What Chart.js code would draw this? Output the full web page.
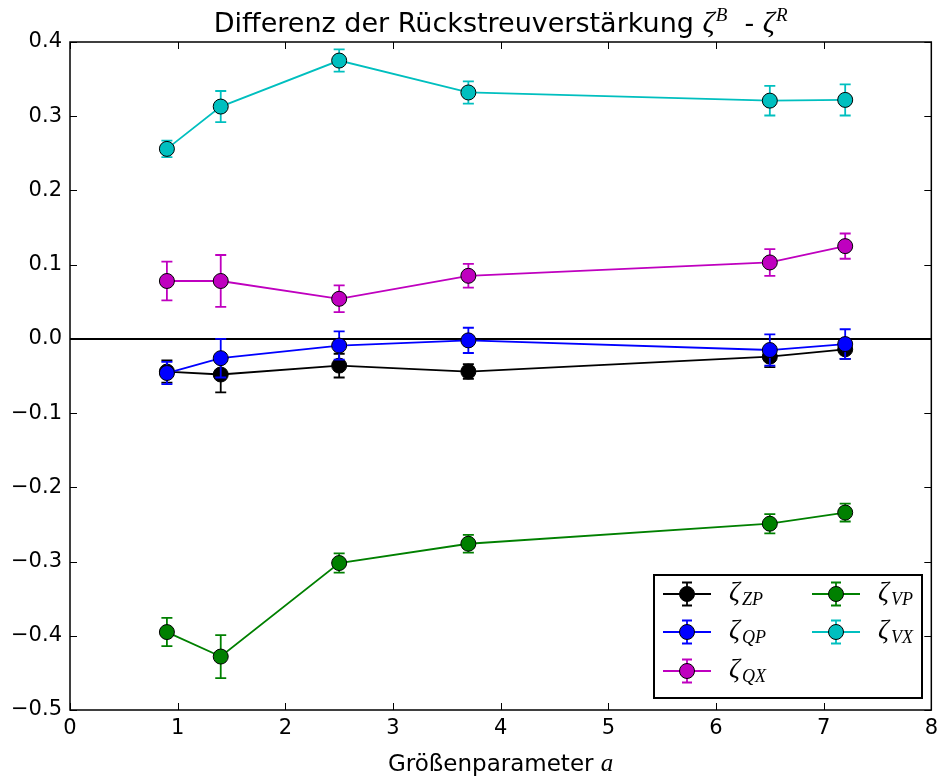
<!DOCTYPE html>
<html>
<head>
<meta charset="utf-8">
<script src="https://cdn.jsdelivr.net/npm/chart.js@4.4.1/dist/chart.umd.min.js"></script>
<style>
  html, body { margin: 0; padding: 0; background: #fff; }
  canvas { display: block; }
</style>
</head>
<body>
<canvas id="zeta-chart" width="944" height="781"></canvas>
<script>
// Größenparameter a
var xValues = [0.9, 1.4, 2.5, 3.7, 6.5, 7.2];

var zpValues = [-0.044, -0.048, -0.036, -0.044, -0.024, -0.014],
    zpErrors = [0.015, 0.024, 0.016, 0.010, 0.014, 0.013];
var qpValues = [-0.046, -0.026, -0.009, -0.002, -0.015, -0.007],
    qpErrors = [0.015, 0.026, 0.019, 0.017, 0.021, 0.020];
var qxValues = [0.078, 0.078, 0.054, 0.085, 0.103, 0.125],
    qxErrors = [0.026, 0.035, 0.018, 0.016, 0.018, 0.017];
var vpValues = [-0.395, -0.428, -0.302, -0.276, -0.249, -0.234],
    vpErrors = [0.019, 0.029, 0.013, 0.012, 0.013, 0.012];
var vxValues = [0.256, 0.313, 0.375, 0.332, 0.321, 0.322],
    vxErrors = [0.011, 0.021, 0.015, 0.015, 0.020, 0.021];

var seriesNames = ['ZP', 'QP', 'QX', 'VP', 'VX'];
var seriesColors = ['#000000', '#0000ff', '#bf00bf', '#008000', '#00bfbf'];
var seriesValues = [zpValues, qpValues, qxValues, vpValues, vxValues];
var seriesErrors = [zpErrors, qpErrors, qxErrors, vpErrors, vxErrors];

var xTicks = [0, 1, 2, 3, 4, 5, 6, 7, 8];
var yTicks = [-0.5, -0.4, -0.3, -0.2, -0.1, 0.0, 0.1, 0.2, 0.3, 0.4];

var sansFont = 'DejaVu Sans',
    mathFont = 'Liberation Serif';

function fmtTick(v) {
    var s = Math.abs(v) < 1e-9 ? '0.0' : v.toFixed(1);
    return s.replace('-', '\u2212');
}

var datasets = [];
for (var i = 0; i < seriesNames.length; i++) {
    var pts = [];
    for (var j = 0; j < xValues.length; j++) {
        pts.push({ x: xValues[j], y: seriesValues[i][j] });
    }
    datasets.push({
        label: '\u03b6' + seriesNames[i],
        sub: seriesNames[i],
        errors: seriesErrors[i],
        data: pts,
        borderColor: seriesColors[i],
        backgroundColor: seriesColors[i],
        borderWidth: 1.8,
        pointRadius: 7.5,
        pointHoverRadius: 7.5,
        pointBorderColor: '#000',
        pointBorderWidth: 1,
        pointBackgroundColor: seriesColors[i],
        tension: 0,
        // later series end up on top
        order: seriesNames.length - i
    });
}

// draw pieces of mixed text (plain / italic math / sub / sup) in a row
function drawRich(ctx, parts, x, y, align) {
    var total = 0, i;
    for (i = 0; i < parts.length; i++) {
        ctx.font = parts[i].font;
        parts[i].w = ctx.measureText(parts[i].text).width;
        total += parts[i].w + (parts[i].gap || 0);
    }
    var cx = align === 'center' ? x - total / 2 : x;
    ctx.textAlign = 'left';
    ctx.textBaseline = 'alphabetic';
    for (i = 0; i < parts.length; i++) {
        ctx.font = parts[i].font;
        ctx.fillText(parts[i].text, cx, y + (parts[i].dy || 0));
        cx += parts[i].w + (parts[i].gap || 0);
    }
}

function drawErrorBar(ctx, x, yLo, yHi, cap) {
    ctx.beginPath();
    ctx.moveTo(x, yLo);
    ctx.lineTo(x, yHi);
    ctx.moveTo(x - cap, yLo);
    ctx.lineTo(x + cap, yLo);
    ctx.moveTo(x - cap, yHi);
    ctx.lineTo(x + cap, yHi);
    ctx.stroke();
}

var errorBars = {
    id: 'errorBars',
    beforeDatasetDraw: function (chart, args) {
        var ds = chart.data.datasets[args.index],
            xs = chart.scales.x,
            ys = chart.scales.y,
            ctx = chart.ctx;
        ctx.save();
        ctx.strokeStyle = ds.borderColor;
        ctx.lineWidth = 1.8;
        for (var k = 0; k < ds.data.length; k++) {
            var px = xs.getPixelForValue(ds.data[k].x);
            drawErrorBar(ctx, px,
                ys.getPixelForValue(ds.data[k].y - ds.errors[k]),
                ys.getPixelForValue(ds.data[k].y + ds.errors[k]), 5.5);
        }
        ctx.restore();
    }
};

var frame = {
    id: 'frame',
    beforeDatasetsDraw: function (chart) {
        var a = chart.chartArea, ctx = chart.ctx,
            xs = chart.scales.x, ys = chart.scales.y;
        ctx.save();
        // inward tick marks on all four sides
        ctx.strokeStyle = '#000';
        ctx.lineWidth = 1;
        ctx.beginPath();
        xTicks.forEach(function (t) {
            var px = Math.round(xs.getPixelForValue(t)) + 0.5;
            ctx.moveTo(px, a.bottom); ctx.lineTo(px, a.bottom - 7);
            ctx.moveTo(px, a.top); ctx.lineTo(px, a.top + 7);
        });
        yTicks.forEach(function (t) {
            var py = Math.round(ys.getPixelForValue(t)) + 0.5;
            ctx.moveTo(a.left, py); ctx.lineTo(a.left + 7, py);
            ctx.moveTo(a.right, py); ctx.lineTo(a.right - 7, py);
        });
        ctx.stroke();
        // zero line
        var y0 = ys.getPixelForValue(0);
        ctx.lineWidth = 2;
        ctx.beginPath();
        ctx.moveTo(a.left, y0);
        ctx.lineTo(a.right, y0);
        ctx.stroke();
        ctx.restore();
    },
    afterDraw: function (chart) {
        var a = chart.chartArea, ctx = chart.ctx;
        ctx.save();
        ctx.strokeStyle = '#000';
        ctx.lineWidth = 1.5;
        ctx.strokeRect(a.left, a.top, a.right - a.left, a.bottom - a.top);

        // title
        ctx.fillStyle = '#000';
        var cx = (a.left + a.right) / 2;
        drawRich(ctx, [
            { text: 'Differenz der R\u00fcckstreuverst\u00e4rkung ', font: '27px "' + sansFont + '"' },
            { text: '\u03b6', font: 'italic 30px "' + mathFont + '"', gap: 1 },
            { text: 'B', font: 'italic 19px "' + mathFont + '"', dy: -11 },
            { text: '  - ', font: '27px "' + sansFont + '"' },
            { text: '\u03b6', font: 'italic 30px "' + mathFont + '"', gap: 1 },
            { text: 'R', font: 'italic 19px "' + mathFont + '"', dy: -11 }
        ], cx, 32, 'center');

        // x axis label
        drawRich(ctx, [
            { text: 'Gr\u00f6\u00dfenparameter ', font: '23px "' + sansFont + '"' },
            { text: 'a', font: 'italic 25px "' + mathFont + '"' }
        ], cx, 771, 'center');
        ctx.restore();
    }
};

// legend box: two columns, filled top to bottom
var legendBox = {
    id: 'legendBox',
    afterDatasetsDraw: function (chart) {
        var ctx = chart.ctx,
            dsets = chart.data.datasets,
            box = { left: 654, top: 575, width: 268, height: 123 },
            cols = [663, 812],
            rows = [594, 632, 671];
        ctx.save();
        ctx.fillStyle = '#fff';
        ctx.fillRect(box.left, box.top, box.width, box.height);
        ctx.strokeStyle = '#000';
        ctx.lineWidth = 2;
        ctx.strokeRect(box.left, box.top, box.width, box.height);

        for (var n = 0; n < dsets.length; n++) {
            var ds = dsets[n],
                col = n < 3 ? 0 : 1,
                row = n < 3 ? n : n - 3,
                lx = cols[col],
                ly = rows[row],
                mx = lx + 24;
            ctx.strokeStyle = ds.borderColor;
            ctx.lineWidth = 1.8;
            ctx.beginPath();
            ctx.moveTo(lx, ly);
            ctx.lineTo(lx + 48, ly);
            ctx.stroke();
            drawErrorBar(ctx, mx, ly - 11.5, ly + 11.5, 5);
            ctx.beginPath();
            ctx.arc(mx, ly, 7.5, 0, Math.PI * 2);
            ctx.fillStyle = ds.backgroundColor;
            ctx.fill();
            ctx.lineWidth = 1;
            ctx.strokeStyle = '#000';
            ctx.stroke();

            ctx.fillStyle = '#000';
            drawRich(ctx, [
                { text: '\u03b6', font: 'italic 27px "' + mathFont + '"', gap: 2 },
                { text: ds.sub, font: 'italic 18px "' + mathFont + '"', dy: 5 }
            ], lx + 66, ly + 6, 'left');
        }
        ctx.restore();
    }
};

var zetaChart = new Chart(document.getElementById('zeta-chart'), {
    type: 'line',
    data: { datasets: datasets },
    options: {
        responsive: false,
        animation: false,
        events: [],
        layout: { padding: { top: 42, right: 9, left: 0, bottom: 0 } },
        plugins: {
            legend: { display: false },
            title: { display: false },
            tooltip: { enabled: false }
        },
        scales: {
            x: {
                type: 'linear',
                min: 0,
                max: 8,
                afterBuildTicks: function (s) {
                    s.ticks = xTicks.map(function (v) { return { value: v }; });
                },
                afterFit: function (s) { s.height = 71; },
                grid: { display: false, drawTicks: false },
                border: { display: false },
                ticks: {
                    color: '#000',
                    padding: 6,
                    maxRotation: 0,
                    autoSkip: false,
                    font: { family: sansFont, size: 21 },
                    callback: function (v) { return String(v); }
                }
            },
            y: {
                type: 'linear',
                min: -0.5,
                max: 0.4,
                afterBuildTicks: function (s) {
                    s.ticks = yTicks.map(function (v) { return { value: v }; });
                },
                afterFit: function (s) { s.width = 70; },
                grid: { display: false, drawTicks: false },
                border: { display: false },
                ticks: {
                    color: '#000',
                    padding: 8,
                    autoSkip: false,
                    font: { family: sansFont, size: 21 },
                    callback: function (v) { return fmtTick(v); }
                }
            }
        }
    },
    plugins: [errorBars, frame, legendBox]
});
</script>
</body>
</html>
